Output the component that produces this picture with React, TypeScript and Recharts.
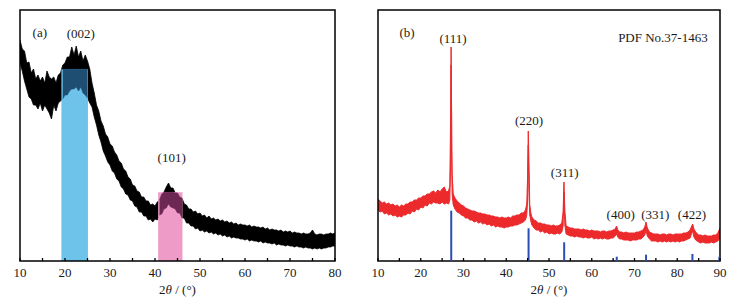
import React from 'react';
import { ComposedChart, Area, XAxis, YAxis, ReferenceArea, ReferenceDot, ReferenceLine } from 'recharts';

const FONT = '"Liberation Serif", "Times New Roman", serif';
const INK = '#1a1a1a';

// ---------- Panel (a): 2θ (deg), band top / bottom (a.u.) ----------
const angleA = [10,10.5,11,11.5,12,12.5,13,13.5,14,14.5,15,15.5,16,16.5,17,17.5,18,18.5,19,19.5,20,20.5,21,21.5,22,22.5,23,23.5,24,24.5,25,25.5,26,26.5,27,27.5,28,28.5,29,29.5,30,30.5,31,31.5,32,32.5,33,33.5,34,34.5,35,35.5,36,36.5,37,37.5,38,38.5,39,39.5,40,40.5,41,41.5,42,42.5,43,43.5,44,44.5,45,45.5,46,46.5,47,47.5,48,48.5,49,49.5,50,50.5,51,51.5,52,52.5,53,53.5,54,54.5,55,55.5,56,56.5,57,57.5,58,58.5,59,59.5,60,60.5,61,61.5,62,62.5,63,63.5,64,64.5,65,65.5,66,66.5,67,67.5,68,68.5,69,69.5,70,70.5,71,71.5,72,72.5,73,73.5,74,74.5,75,75.5,76,76.5,77,77.5,78,78.5,79,79.5,80];
const hiA = [221,212,210,198,199,188,192,182,186,180,184,178,190,184,182,184,178,186,188,196,198,204,204,214,206,215,204,210,200,206,200,192,178,168,156,150,140,135,127,124,117,115,109,106,100,98,92,90,84,82,76,75,70,69,64,64,60,60,56,57,55,59,61,67,69,74,78,73,73,68,68,64,63,57,56,52,52,49,50,47,48,45,46,43,45,42,43,41,42,40,41,39,40,38,39,37,38,36,37,36,36,35,36,34,35,34,34,33,34,32,33,31,32,31,31,30,31,29,30,29,30,28,29,28,28,27,28,27,27,28,31,27,26,27,27,26,27,27,28,27,28];
const loA = [198,190,180,172,164,162,156,156,152,158,150,156,152,148,142,156,150,158,160,162,166,166,170,172,172,174,170,174,168,166,163,158,154,144,136,126,119,110,105,99,96,90,88,82,80,74,72,67,66,61,60,55,54,49,49,45,45,41,42,39,42,41,46,47,52,53,57,54,53,52,48,48,43,43,38,38,35,35,32,33,30,31,29,30,28,29,27,28,26,27,25,26,24,25,23,24,23,23,22,22,21,22,20,21,20,20,19,20,18,19,18,18,17,18,16,17,16,16,15,16,15,15,14,15,14,14,13,14,13,13,12,13,12,13,12,13,13,14,14,15,15];

// highlighted windows in (a)
const bandA_x0 = [19.2, 40.7];
const bandA_x1 = [25.1, 46.1];
const bandA_top = [191.7, 68.7];
const bandA_fill = ['#6DC3EA', '#EE9BC7'];
const bandA_dark = ['#1E4F72', '#6C2853'];

const ticksA = [10,15,20,25,30,35,40,45,50,55,60,65,70,75,80];
const labelsA = ['(a)', '(002)', '(101)'];
const labelAx = [14.4, 23.5, 43.7];
const labelAy = [229, 227.3, 103.5];

// ---------- Panel (b) ----------
const angleB = [10,10.5,11,11.5,12,12.5,13,13.5,14,14.5,15,15.5,16,16.5,17,17.5,18,18.5,19,19.5,20,20.5,21,21.5,22,22.5,23,23.5,24,24.5,25,25.5,26,26.5,26.8,27,27.1,27.2,27.35,27.6,28,28.5,29,29.5,30,30.5,31,31.5,32,32.5,33,33.5,34,34.5,35,35.5,36,36.5,37,37.5,38,38.5,39,39.5,40,40.5,41,41.5,42,42.5,43,43.5,44,44.5,44.8,45,45.15,45.3,45.5,45.8,46,46.5,47,47.5,48,48.5,49,49.5,50,50.5,51,51.5,52,52.5,53,53.3,53.5,53.7,54,54.5,55,55.5,56,56.5,57,57.5,58,58.5,59,59.5,60,60.5,61,61.5,62,62.5,63,63.5,64,64.5,65,65.5,65.8,66.1,66.5,67,67.5,68,68.5,69,69.5,70,70.5,71,71.5,72,72.4,72.7,73,73.5,74,74.5,75,75.5,76,76.5,77,77.5,78,78.5,79,79.5,80,80.5,81,81.5,82,82.5,83,83.4,83.6,83.9,84.3,85,85.5,86,86.5,87,87.5,88,88.5,89,89.5,89.8,90];
const hiB = [62,60,58,59,57,58,56,57,55,56,54,56,55,57,57,59,59,61,61,63,63,65,65,67,67,69,70,68,71,69,72,74,69,70,75,151,214,161,86,67,63,60,58,56,55,53,52,51,50,50,49,48,48,47,47,46,46,45,45,44,44,43,44,43,43,44,43,45,45,46,46,48,48,51,57,86,130,101,56,47,44,41,40,38,38,37,37,36,36,35,36,35,35,36,38,49,79,51,35,34,33,33,32,32,32,31,32,31,31,30,31,30,30,30,29,30,30,29,30,30,31,32,35,31,29,29,28,29,28,28,28,28,29,29,30,31,34,39,33,29,28,27,27,27,26,27,27,26,27,27,26,27,27,27,27,28,28,29,31,35,37,32,29,26,26,25,26,25,25,25,26,26,28,31,33];
const loB = [51,49,50,47,48,46,47,45,46,44,45,44,46,46,48,47,50,49,52,51,54,53,56,55,58,57,59,58,58,57,59,57,58,57,61,101,196,111,66,56,52,49,48,46,45,43,43,41,41,39,40,38,39,37,38,36,37,35,36,34,35,34,34,33,34,34,35,35,36,36,37,38,39,41,46,61,116,71,46,39,36,33,31,31,29,30,28,29,27,28,27,27,28,27,29,35,69,36,27,26,25,25,24,25,24,24,23,24,23,23,24,22,23,22,23,22,23,22,22,23,23,25,27,24,22,22,21,21,21,20,21,21,21,22,22,24,26,31,25,22,20,20,20,19,20,19,20,19,20,19,20,19,20,19,20,20,21,22,23,28,30,24,21,19,18,19,18,18,18,19,18,19,20,22,23];

// PDF No.37-1463 reference sticks
const stickAngle = [27.13, 45.22, 53.55, 65.85, 72.7, 83.55, 89.85];
const stickHeight = [50.3, 32.7, 18.7, 4.3, 6.3, 7, 4.3];

const ticksB = [10,15,20,25,30,35,40,45,50,55,60,65,70,75,80,85,90];
const labelsB = ['(b)', '(111)', '(220)', '(311)', '(400)', '(331)', '(422)', 'PDF No.37-1463'];
const labelBx = [16.78, 27.57, 45.33, 53.66, 66.76, 74.85, 83.43, 76.65];
const labelBy = [228.7, 222.7, 140.7, 88.3, 47, 47, 47, 223.7];

// ---------- build tables ----------
const dataA = angleA.map((x, i) => ({ x, r: [loA[i], hiA[i]] }));
const dataB = angleB.map((x, i) => ({ x, r: [loB[i], hiB[i]] }));
const rectsA = bandA_x0.map((x0, k) => [
  { x: x0, r: [0, bandA_top[k]] },
  { x: bandA_x1[k], r: [0, bandA_top[k]] },
]);
const overlaysA = bandA_x0.map((x0, k) =>
  angleA
    .map((x, i) => ({ x, r: [loA[i], Math.min(hiA[i], bandA_top[k])] }))
    .filter((d) => d.x >= x0 && d.x <= bandA_x1[k])
);

const renderTick = (props: any) => {
  const { x, y, payload } = props;
  if (payload.value % 10 !== 0) return <g />;
  return (
    <text x={x} y={y} dy="0.71em" textAnchor="middle" fontFamily={FONT} fontSize={13} fill={INK}>
      {payload.value}
    </text>
  );
};

const AxisTitle = (props: any) => {
  const vb = props.viewBox || {};
  const cx = vb.x + vb.width / 2;
  const y = vb.y + 32.5;
  return (
    <text x={cx} y={y} textAnchor="middle" fontFamily={FONT} fontSize={13} fill={INK}>
      2<tspan fontStyle="italic">θ</tspan> / (°)
    </text>
  );
};

const textShape = (label: string) => (p: any) => (
  <text x={p.cx} y={p.cy} textAnchor="middle" dominantBaseline="central" fontFamily={FONT} fontSize={13} fill={INK}>
    {label}
  </text>
);

const axisCommon = {
  type: 'number' as const,
  dataKey: 'x',
  interval: 0 as const,
  allowDataOverflow: true,
  tickSize: -3,
  tickMargin: 9.5,
  axisLine: false,
  tickLine: { stroke: '#000', strokeWidth: 1.3 },
  tick: renderTick,
  height: 30,
  label: AxisTitle,
};

export default function App() {
  return (
    <div style={{ position: 'absolute', left: 0, top: 0, width: 744, height: 308, background: '#fff' }}>
      <div style={{ position: 'absolute', left: 0, top: 0 }}>
        <ComposedChart width={372} height={308} margin={{ top: 10, left: 20, right: 37, bottom: 17 }}>
          <XAxis {...axisCommon} domain={[10, 80]} ticks={ticksA} />
          <YAxis hide type="number" domain={[0, 251]} allowDataOverflow />
          <Area data={dataA} dataKey="r" type="linear" stroke="#000" strokeWidth={0.8} fill="#000" fillOpacity={1} isAnimationActive={false} dot={false} activeDot={false} />
          {rectsA.map((d, k) => (
            <Area key={'rect' + k} data={d} dataKey="r" type="linear" stroke="none" fill={bandA_fill[k]} fillOpacity={1} isAnimationActive={false} dot={false} activeDot={false} />
          ))}
          {overlaysA.map((d, k) => (
            <Area key={'ov' + k} data={d} dataKey="r" type="linear" stroke={bandA_dark[k]} strokeWidth={0.6} fill={bandA_dark[k]} fillOpacity={1} isAnimationActive={false} dot={false} activeDot={false} />
          ))}
          <ReferenceArea x1={10} x2={80} y1={0} y2={251} fill="none" stroke="#000" strokeWidth={1.5} />
          {labelsA.map((t, i) => (
            <ReferenceDot key={t} x={labelAx[i]} y={labelAy[i]} r={0} shape={textShape(t)} />
          ))}
        </ComposedChart>
      </div>
      <div style={{ position: 'absolute', left: 372, top: 0 }}>
        <ComposedChart width={372} height={308} margin={{ top: 10, left: 6, right: 24, bottom: 17 }}>
          <XAxis {...axisCommon} domain={[10, 90]} ticks={ticksB} />
          <YAxis hide type="number" domain={[0, 251]} allowDataOverflow />
          <Area data={dataB} dataKey="r" type="linear" stroke="#EC2A2C" strokeWidth={1} fill="#EC2A2C" fillOpacity={1} isAnimationActive={false} dot={false} activeDot={false} />
          {stickAngle.map((a, i) => (
            <ReferenceLine key={'s' + i} segment={[{ x: a, y: 0 }, { x: a, y: stickHeight[i] }]} stroke="#2C4DB3" strokeWidth={2} />
          ))}
          <ReferenceArea x1={10} x2={90} y1={0} y2={251} fill="none" stroke="#000" strokeWidth={1.5} />
          {labelsB.map((t, i) => (
            <ReferenceDot key={t} x={labelBx[i]} y={labelBy[i]} r={0} shape={textShape(t)} />
          ))}
        </ComposedChart>
      </div>
    </div>
  );
}
